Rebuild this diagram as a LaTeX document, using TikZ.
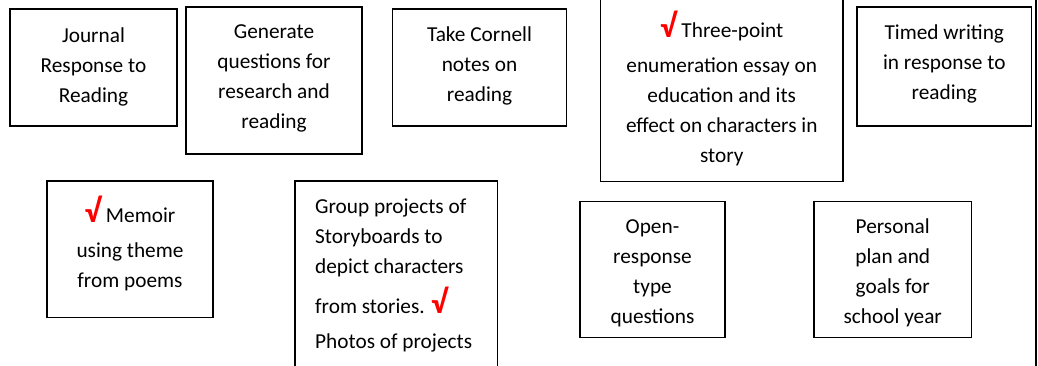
\documentclass[tikz,border=0pt]{standalone}
\usepackage{fontspec}
\setmainfont{Carlito}
\usepackage{xcolor}
\newcommand\bodyfont{\fontsize{21.3}{30}\selectfont}
\newcommand\ck{\smash{\fontsize{33}{30}\selectfont\bfseries\color{red}√}}
\begin{document}
\begin{tikzpicture}[x=1pt,y=-1pt,
  box/.style={draw=black, line width=1.8pt, inner sep=0pt, fill=none},
  txt/.style={align=center, inner sep=0pt, font=\bodyfont, anchor=north},
  ltxt/.style={align=left, inner sep=0pt, font=\bodyfont, anchor=north west}]
\useasboundingbox (0,0) rectangle (1038,366);
% boxes
\node[box, minimum width=167pt, minimum height=117pt] (b1) at (93.5,67.5) {};
\node[box, minimum width=176pt, minimum height=147pt] (b2) at (274,80.5) {};
\node[box, minimum width=174pt, minimum height=117pt] (b3) at (479.5,67.5) {};
\node[box, minimum width=242.5pt, minimum height=191.5pt] (b4) at (721.75,85.75) {};
\node[box, minimum width=174.5pt, minimum height=119pt] (b5) at (944.25,66.5) {};
\node[box, minimum width=166pt, minimum height=136.5pt] (b6) at (130,249.25) {};
\node[box, minimum width=202.5pt, minimum height=194pt] (b7) at (396.25,278) {};
\node[box, minimum width=145pt, minimum height=136pt] (b8) at (652.5,269.5) {};
\node[box, minimum width=157.5pt, minimum height=136pt] (b9) at (892.75,269.5) {};
% right page line
\coordinate (rt) at (1036,-5);
\coordinate (rb) at (1036,371);
\draw[line width=1.8pt] (rt) -- (rb);
% texts
\node[txt] (t1) at (93.5,21) {\strut Journal\\\strut Response to\\\strut Reading};
\node[txt] (t2) at (274,17) {\strut Generate\\\strut questions for\\\strut research and\\\strut reading};
\node[txt] (t3) at (479.5,20) {\strut Take Cornell\\\strut notes on\\\strut reading};
\node[txt] (t4) at (721.75,16) {\strut\ck\ Three-point\\[5pt]\strut enumeration essay on\\\strut education and its\\\strut effect on characters in\\\strut story};
\node[txt] (t5) at (944.25,18) {\strut Timed writing\\\strut in response to\\\strut reading};
\node[txt] (t6) at (130,201.5) {\strut\ck\ Memoir\\[4.5pt]\strut using theme\\\strut from poems};
\node[ltxt] (t7) at (315,192) {\strut Group projects of\\\strut Storyboards to\\\strut depict characters\\[10pt]\strut from stories. \ck\\[5pt]\strut Photos of projects};
\node[txt] (t8) at (652.5,212) {\strut Open-\\\strut response\\\strut type\\\strut questions};
\node[txt] (t9) at (892.75,212) {\strut Personal\\\strut plan and\\\strut goals for\\\strut school year};
\end{tikzpicture}
\end{document}
